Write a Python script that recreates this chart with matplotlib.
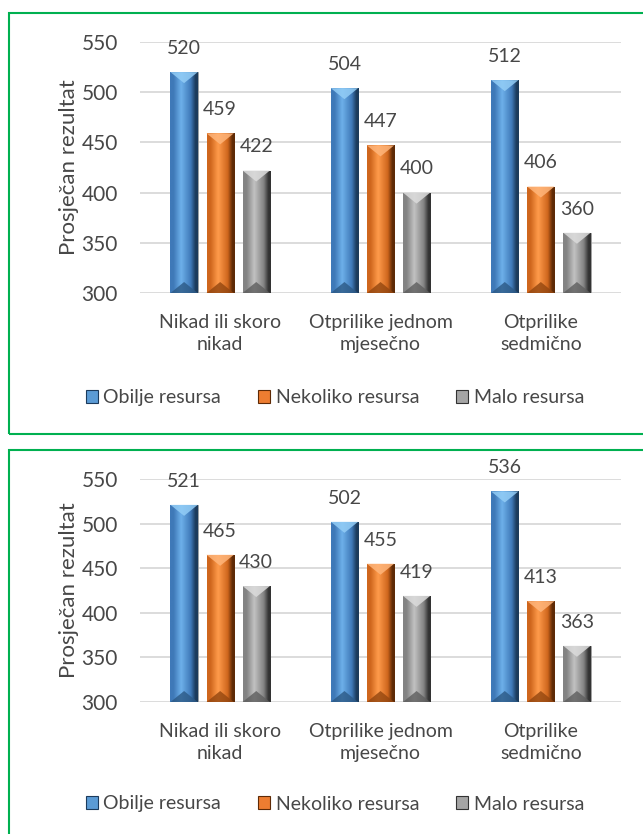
import numpy as np
import matplotlib
matplotlib.use("Agg")
import matplotlib.pyplot as plt
from matplotlib.patches import Rectangle, Polygon, Patch
from matplotlib.colors import LinearSegmentedColormap

plt.rcParams['font.family'] = ['Lato', 'DejaVu Sans']

# data
categories = ['Nikad ili skoro\nnikad', 'Otprilike jednom\nmjesečno', 'Otprilike\nsedmično']
series = ['Obilje resursa', 'Nekoliko resursa', 'Malo resursa']
top_obilje = [520, 504, 512]
top_nekoliko = [459, 447, 406]
top_malo = [422, 400, 360]
bot_obilje = [521, 502, 536]
bot_nekoliko = [465, 455, 413]
bot_malo = [430, 419, 363]
yticks = [300, 350, 400, 450, 500, 550]

# bevel colours: (left, light, right dark, top triangle, bottom triangle)
styles = [
    ('#3f79b8', '#6db0ea', '#1c3b5c', '#93cdf6', '#2c5985'),
    ('#cf661d', '#ff9b4b', '#5e2a06', '#ffb57a', '#93460f'),
    ('#838383', '#c2c2c2', '#333333', '#dcdcdc', '#5e5e5e'),
]
base_cols = ['#5b9bd5', '#ed7d31', '#a5a5a5']
txt = '#474747'

W, H = 643, 834
fig = plt.figure(figsize=(W / 100, H / 100), dpi=100)

def px_rect(l, t, r, b):
    return [l / W, 1 - b / H, (r - l) / W, (b - t) / H]

def bevel_bars(ax, rects, st, px_per_unit):
    left, light, dark, topc, botc = st
    cmap = LinearSegmentedColormap.from_list('g', [(0, left), (0.12, left), (0.4, light), (0.75, left), (0.92, dark), (1, dark)])
    grad = np.linspace(0, 1, 64).reshape(1, -1)
    for r in rects:
        x0, w, y0, h = r.get_x(), r.get_width(), r.get_y(), r.get_height()
        im = ax.imshow(grad, extent=(x0, x0 + w, y0, y0 + h), aspect='auto', cmap=cmap,
                       interpolation='bilinear', zorder=2)
        im.set_clip_path(r)
        dy = 11 / px_per_unit
        ax.add_patch(Polygon([(x0, y0 + h), (x0 + w, y0 + h), (x0 + w / 2, y0 + h - dy)],
                             closed=True, facecolor=topc, edgecolor='none', alpha=0.85, zorder=3))
        ax.add_patch(Polygon([(x0, y0), (x0 + w, y0), (x0 + w / 2, y0 + dy)],
                             closed=True, facecolor=botc, edgecolor='none', alpha=0.8, zorder=3))

def panel(rect_px, values):
    ax = fig.add_axes(px_rect(*rect_px))
    x = np.arange(len(categories))
    bw = 0.17
    pitch = 0.225
    ax_h_px = rect_px[3] - rect_px[1]
    ppu = ax_h_px / (yticks[-1] - yticks[0])
    for i, vals in enumerate(values):
        pos = x + (i - 1) * pitch
        bars = ax.bar(pos, np.array(vals) - yticks[0], bottom=yticks[0], width=bw,
                      color=base_cols[i], edgecolor='#9a9a9a', linewidth=0.6, zorder=2)
        bevel_bars(ax, bars.patches, styles[i], ppu)
        for p, v in zip(pos, vals):
            ax.annotate(str(v), (p, v), xytext=(0, 17), textcoords='offset points',
                        ha='center', va='center', fontsize=14, color=txt)
    ax.set_xlim(-0.5, 2.5)
    ax.set_ylim(yticks[0], yticks[-1])
    ax.set_yticks(yticks)
    ax.set_xticks(x)
    ax.set_xticklabels(categories, fontsize=14, color=txt, linespacing=1.4)
    ax.tick_params(axis='y', length=0, pad=16, labelsize=15, labelcolor=txt)
    ax.tick_params(axis='x', length=0, pad=15)
    ax.yaxis.grid(True, color='#d9d9d9', linewidth=1.3, zorder=0)
    ax.set_axisbelow(True)
    for s in ax.spines.values():
        s.set_visible(False)
    ax.set_ylabel('Prosječan rezultat', fontsize=16, color=txt, labelpad=2)
    handles = [Patch(facecolor=base_cols[i], edgecolor=styles[i][2], linewidth=0.8) for i in range(3)]
    ax.legend(handles, series, loc='center', bbox_to_anchor=(0.5, 0), ncol=3, frameon=False,
              fontsize=14, labelcolor=txt, handlelength=0.6, handleheight=0.6,
              handletextpad=0.3, columnspacing=1.9)
    return ax

ax1 = panel((140, 42, 621, 293), [top_obilje, top_nekoliko, top_malo])
ax2 = panel((140, 479, 621, 702), [bot_obilje, bot_nekoliko, bot_malo])

# legend positions in figure pixels
ax1.get_legend().set_bbox_to_anchor((335 / W, 1 - 398 / H), transform=fig.transFigure)
ax2.get_legend().set_bbox_to_anchor((335 / W, 1 - 804 / H), transform=fig.transFigure)

# green frames around panels
for t, b in [(13, 434), (450, 860)]:
    fig.patches.append(Rectangle((8.5 / W, 1 - b / H), (660 - 8.5) / W, (b - t) / H,
                                 transform=fig.transFigure, fill=False,
                                 edgecolor='#00b050', linewidth=1.5))

fig.savefig('out.png', dpi=100, facecolor='white')
